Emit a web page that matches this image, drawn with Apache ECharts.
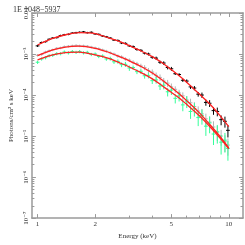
<!DOCTYPE html>
<html>
<head>
<meta charset="utf-8">
<script src="https://cdn.jsdelivr.net/npm/echarts@6/dist/echarts.min.js"></script>
<style>
html,body{margin:0;padding:0;background:#fff;}
#c{width:245px;height:245px;}
</style>
</head>
<body>
<div id="c"></div>
<script>
// ---- data ----
const title = '1E 1048\u22125937';
const xTitle = 'Energy (keV)';
const yTitle = 'Photons/cm\u00b2 s keV';

const xMajorTicks = [1, 2, 5, 10];
const xTickLabels = ['1', '2', '5', '10'];
const xMinorTicks = [3, 4, 6, 7, 8, 9];
const yMajorTicks = [1e-7, 1e-6, 1e-5, 1e-4, 1e-3, 1e-2];
const yTickLabels = ['10\u207b\u2077', '10\u207b\u2076', '10\u207b\u2075', '10\u207b\u2074', '10\u207b\u00b3', '0.01'];

// data bin centres (keV)
const dataEnergy = [1.00,1.05,1.10,1.15,1.20,1.26,1.32,1.38,1.45,1.52,1.59,1.66,1.74,1.82,1.91,2.00,2.09,2.19,2.29,2.40,2.51,2.63,2.75,2.88,3.02,3.16,3.31,3.47,3.63,3.80,3.98,4.17,4.37,4.57,4.79,5.01,5.25,5.50,5.75,6.03,6.31,6.61,6.92,7.24,7.59,7.94,8.32,8.71,9.12,9.55,9.90];

const blackFlux = [1.58e-3,1.91e-3,2.00e-3,2.29e-3,2.45e-3,2.51e-3,2.82e-3,2.95e-3,3.02e-3,3.24e-3,3.31e-3,3.39e-3,3.47e-3,3.31e-3,3.39e-3,3.09e-3,3.02e-3,2.75e-3,2.63e-3,2.45e-3,2.19e-3,2.14e-3,1.86e-3,1.82e-3,1.58e-3,1.51e-3,1.29e-3,1.23e-3,1.05e-3,1.00e-3,8.32e-4,7.94e-4,6.31e-4,6.03e-4,4.68e-4,4.37e-4,3.31e-4,3.16e-4,2.29e-4,2.19e-4,1.58e-4,1.48e-4,1.05e-4,1.00e-4,6.61e-5,6.31e-5,4.17e-5,3.98e-5,2.51e-5,2.29e-5,1.38e-5];
const blackErr = [0.06,0.05,0.05,0.05,0.05,0.05,0.05,0.05,0.05,0.05,0.05,0.05,0.05,0.05,0.05,0.05,0.05,0.05,0.05,0.05,0.05,0.06,0.06,0.06,0.06,0.07,0.07,0.07,0.07,0.08,0.08,0.09,0.09,0.10,0.10,0.11,0.07,0.08,0.09,0.10,0.11,0.12,0.13,0.15,0.17,0.19,0.21,0.24,0.27,0.30,0.33];

const greyFlux = [9.33e-4,9.77e-4,1.12e-3,1.20e-3,1.26e-3,1.38e-3,1.41e-3,1.51e-3,1.55e-3,1.58e-3,1.62e-3,1.58e-3,1.58e-3,1.55e-3,1.48e-3,1.41e-3,1.35e-3,1.26e-3,1.17e-3,1.07e-3,1.00e-3,8.91e-4,8.51e-4,7.59e-4,7.08e-4,6.31e-4,5.75e-4,5.13e-4,4.68e-4,3.98e-4,3.63e-4,3.02e-4,2.69e-4,2.19e-4,1.95e-4,1.58e-4,1.38e-4,1.12e-4,9.55e-5,7.59e-5,6.46e-5,5.25e-5,4.07e-5,3.47e-5,2.63e-5,2.19e-5,1.66e-5,1.26e-5,1.00e-5,7.24e-6,6.03e-6];
const greyErr = [0.07,0.07,0.07,0.07,0.07,0.07,0.07,0.07,0.07,0.07,0.07,0.07,0.07,0.07,0.07,0.07,0.07,0.07,0.08,0.08,0.08,0.09,0.09,0.10,0.10,0.11,0.12,0.13,0.14,0.15,0.16,0.17,0.18,0.19,0.20,0.21,0.18,0.20,0.22,0.24,0.26,0.28,0.30,0.32,0.34,0.36,0.38,0.40,0.42,0.44,0.45];

const greenFlux = [6.31e-4,7.59e-4,8.13e-4,9.12e-4,9.33e-4,1.02e-3,1.02e-3,1.12e-3,1.07e-3,1.15e-3,1.10e-3,1.15e-3,1.07e-3,1.10e-3,9.77e-4,1.00e-3,8.71e-4,8.91e-4,7.59e-4,7.76e-4,6.46e-4,6.61e-4,5.50e-4,5.62e-4,4.57e-4,4.68e-4,3.72e-4,3.80e-4,2.95e-4,3.02e-4,2.24e-4,2.34e-4,1.66e-4,1.74e-4,1.20e-4,1.32e-4,8.32e-5,9.55e-5,5.75e-5,7.08e-5,3.98e-5,4.68e-5,2.82e-5,3.16e-5,1.74e-5,2.09e-5,1.12e-5,1.26e-5,7.08e-6,7.94e-6,5.01e-6];
const greenErr = [0.09,0.09,0.09,0.09,0.09,0.09,0.09,0.09,0.09,0.09,0.09,0.09,0.09,0.09,0.09,0.09,0.09,0.10,0.10,0.11,0.11,0.12,0.13,0.14,0.15,0.12,0.13,0.14,0.15,0.16,0.17,0.19,0.20,0.21,0.23,0.24,0.25,0.27,0.30,0.32,0.34,0.36,0.38,0.40,0.42,0.44,0.46,0.48,0.50,0.50,0.50];

// model curves (red)
const modelEnergy = [1.0,1.2,1.4,1.65,2.0,2.33,2.7,3.0,3.5,4.0,4.5,5.0,5.5,6.0,7.0,8.0,9.0,10.0];
const blackModel = [1.66e-3,2.40e-3,2.95e-3,3.31e-3,3.16e-3,2.51e-3,2.00e-3,1.62e-3,1.17e-3,8.51e-4,6.03e-4,4.17e-4,2.95e-4,2.09e-4,1.07e-4,5.89e-5,3.16e-5,1.70e-5];
const greyModel = [9.12e-4,1.26e-3,1.48e-3,1.55e-3,1.38e-3,1.12e-3,8.51e-4,6.92e-4,4.90e-4,3.39e-4,2.29e-4,1.55e-4,1.07e-4,7.41e-5,3.72e-5,1.86e-5,9.77e-6,5.13e-6];
const greenModel = [7.24e-4,9.55e-4,1.08e-3,1.11e-3,9.55e-4,7.94e-4,6.03e-4,4.90e-4,3.47e-4,2.45e-4,1.66e-4,1.17e-4,8.51e-5,6.03e-5,3.16e-5,1.66e-5,8.91e-6,4.90e-6];

// ---- chart ----
const XMIN = 0.934, XMAX = 11.87, YMIN = 1e-7, YMAX = 1e-2;
const HALFBIN = 1.023;
const FONT = "'Liberation Serif', 'DejaVu Serif', serif";
const AXC = '#9a9a9a';
const TXT = '#333';

const yMinorTicks = [];
for (let d = -7; d < -2; d++) for (let m = 2; m <= 9; m++) yMinorTicks.push(m * Math.pow(10, d));

function pairs(xs, ys, es) { return xs.map((x, i) => es ? [x, ys[i], es[i]] : [x, ys[i]]); }

function errSeries(xs, ys, es, color) {
  return {
    type: 'custom', xAxisIndex: 0, yAxisIndex: 0, clip: true,
    data: pairs(xs, ys, es),
    encode: { x: 0, y: 1 },
    renderItem: function (params, api) {
      const e = api.value(0), f = api.value(1), r = api.value(2);
      const a = api.coord([e / HALFBIN, f]), b = api.coord([e * HALFBIN, f]);
      const c = api.coord([e, f * (1 + r)]), d = api.coord([e, f * Math.max(1 - r, 0.01)]);
      const st = { stroke: color, lineWidth: 1 };
      return { type: 'group', children: [
        { type: 'line', shape: { x1: a[0], y1: a[1], x2: b[0], y2: b[1] }, style: st },
        { type: 'line', shape: { x1: c[0], y1: c[1], x2: d[0], y2: d[1] }, style: st }
      ]};
    }
  };
}
function modelSeries(ys) {
  return { type: 'line', xAxisIndex: 0, yAxisIndex: 0, data: pairs(modelEnergy, ys),
    showSymbol: false, smooth: 0.3, lineStyle: { color: '#ff2020', width: 1.3 }, silent: true, animation: false };
}

function xAx(pos, ticks, len, main) {
  return {
    type: 'log', min: XMIN, max: XMAX, position: pos,
    axisLine: { show: main, lineStyle: { color: AXC, width: 1.5 } },
    axisTick: { show: true, inside: true, length: len, customValues: ticks, lineStyle: { color: AXC, width: 1 } },
    axisLabel: { show: main && pos === 'bottom', customValues: xMajorTicks, margin: 3,
      fontSize: 7, fontFamily: FONT, color: TXT,
      formatter: function (v) { const i = xMajorTicks.findIndex(t => Math.abs(t - v) < 1e-6); return i >= 0 ? xTickLabels[i] : ''; } },
    splitLine: { show: false },
    name: (main && pos === 'bottom') ? xTitle : '', nameLocation: 'middle', nameGap: 12,
    nameTextStyle: { fontSize: 7, fontFamily: FONT, color: TXT }
  };
}
function yAx(pos, ticks, len, main) {
  return {
    type: 'log', min: YMIN, max: YMAX, position: pos,
    axisLine: { show: main, lineStyle: { color: AXC, width: 1.5 } },
    axisTick: { show: true, inside: true, length: len, customValues: ticks, lineStyle: { color: AXC, width: 1 } },
    axisLabel: { show: main && pos === 'left', customValues: yMajorTicks, margin: 2, rotate: 90,
      fontSize: 7, fontFamily: FONT, color: TXT,
      formatter: function (v) { const p = Math.round(Math.log10(v)); const i = yMajorTicks.findIndex(t => Math.round(Math.log10(t)) === p); return i >= 0 ? yTickLabels[i] : ''; } },
    splitLine: { show: false },
    name: (main && pos === 'left') ? yTitle : '', nameLocation: 'middle', nameGap: 12,
    nameTextStyle: { fontSize: 7, fontFamily: FONT, color: TXT }
  };
}

const chart = echarts.init(document.getElementById('c'), null, { renderer: 'canvas' });
chart.setOption({
  animation: false,
  backgroundColor: '#fff',
  title: { text: title, left: 8, top: 1, textStyle: { fontSize: 8, fontWeight: 'normal', fontFamily: FONT, color: TXT } },
  grid: { left: 20, right: 2, top: 13, bottom: 19, containLabel: false },
  xAxis: [
    xAx('bottom', xMajorTicks, 4, true),
    xAx('bottom', xMinorTicks, 2.5, false),
    xAx('top', xMajorTicks, 4, true),
    xAx('top', xMinorTicks, 2.5, false)
  ],
  yAxis: [
    yAx('left', yMajorTicks, 4, true),
    yAx('left', yMinorTicks, 2.5, false),
    yAx('right', yMajorTicks, 4, true),
    yAx('right', yMinorTicks, 2.5, false)
  ],
  series: [
    errSeries(dataEnergy, greyFlux, greyErr, '#b4b4b4'),
    errSeries(dataEnergy, greenFlux, greenErr, '#33ff99'),
    errSeries(dataEnergy, blackFlux, blackErr, '#000000'),
    modelSeries(blackModel),
    modelSeries(greyModel),
    modelSeries(greenModel)
  ]
});
</script>
</body>
</html>
